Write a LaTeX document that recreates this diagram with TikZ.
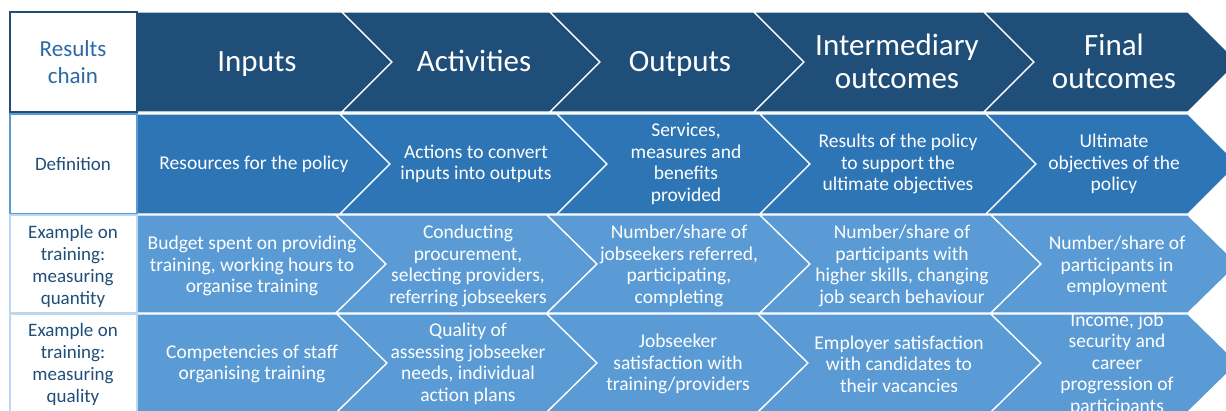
\documentclass[tikz,border=0pt]{standalone}
\usepackage{fontspec}
\setmainfont{Carlito}
\usepackage{xcolor}
\usepackage{tikz}

\definecolor{navy}{HTML}{1F4E79}
\definecolor{midblue}{HTML}{2E75B6}
\definecolor{lightblue}{HTML}{5B9BD5}
\definecolor{paleline}{HTML}{BDD7EE}
\definecolor{labeltext}{HTML}{1F4E79}

\tikzset{
    head/.style={text=white,align=center,font=\fontsize{31pt}{33pt}\selectfont},
    cell/.style={text=white,align=center,font=\fontsize{19.5pt}{21.5pt}\selectfont},
    rowlabel/.style={text=labeltext,align=center,font=\fontsize{19pt}{22pt}\selectfont},
    chev/.style={draw=white,line width=1.3pt,line join=miter},
}

% one row of five arrows: top, bottom, colour, then the four inner joints
\newcommand{\chainrow}[7]{%
    \filldraw[chev,fill=#3] (137,#1) -- (#4,#1) -- (#4+50,{(#1+#2)/2}) -- (#4,#2) -- (137,#2) -- cycle;
    \filldraw[chev,fill=#3] (#4,#1) -- (#5,#1) -- (#5+50,{(#1+#2)/2}) -- (#5,#2) -- (#4,#2) -- (#4+50,{(#1+#2)/2}) -- cycle;
    \filldraw[chev,fill=#3] (#5,#1) -- (#6,#1) -- (#6+50,{(#1+#2)/2}) -- (#6,#2) -- (#5,#2) -- (#5+50,{(#1+#2)/2}) -- cycle;
    \filldraw[chev,fill=#3] (#6,#1) -- (#7,#1) -- (#7+50,{(#1+#2)/2}) -- (#7,#2) -- (#6,#2) -- (#6+50,{(#1+#2)/2}) -- cycle;
    \filldraw[chev,fill=#3] (#7,#1) -- (1188,#1) -- (1238,{(#1+#2)/2}) -- (1188,#2) -- (#7,#2) -- (#7+50,{(#1+#2)/2}) -- cycle;
}

\begin{document}
\begin{tikzpicture}[x=1pt,y=-1pt]
    \useasboundingbox (0,0) rectangle (1226,410);
    \clip (0,0) rectangle (1226,410);

    % arrows
    \chainrow{12}{112}{navy}{342}{550}{754}{984}
    \chainrow{114}{214}{midblue}{340}{557}{760}{986}
    \chainrow{215}{313}{lightblue}{336}{547}{760}{991}
    \chainrow{314}{412}{lightblue}{337}{547}{758}{991}

    % label column
    \draw[navy,line width=1.3pt] (10,12) rectangle (137,112);
    \draw[lightblue,line width=1.3pt] (10,114) rectangle (137,214);
    \draw[paleline,line width=1.3pt] (10,215) rectangle (137,313);
    \draw[paleline,line width=1.3pt] (10,314) rectangle (137,412);

    \node[rowlabel,text=midblue!70!navy,font=\fontsize{23pt}{27pt}\selectfont] (chain) at (73,62) {Results\\chain};
    \node[rowlabel] (def) at (73,164) {Definition};
    \node[rowlabel] (quant) at (73,266) {Example on\\training:\\measuring\\quantity};
    \node[rowlabel] (qual) at (73,364) {Example on\\training:\\measuring\\quality};

    % results chain
    \node[head,anchor=base] (in) at (257,71) {Inputs};
    \node[head,anchor=base] (act) at (474,71) {Activities};
    \node[head,anchor=base] (out) at (680,71) {Outputs};
    \node[head] (mid) at (897,61) {Intermediary\\outcomes};
    \node[head] (fin) at (1114,61) {Final\\outcomes};

    % definition
    \node[cell] (def-in) at (254,164) {Resources for the policy};
    \node[cell] (def-act) at (476,164) {Actions to convert\\inputs into outputs};
    \node[cell] (def-out) at (686,164) {Services,\\measures and\\benefits\\provided};
    \node[cell] (def-mid) at (898,164) {Results of the policy\\to support the\\ultimate objectives};
    \node[cell] (def-fin) at (1114,164) {Ultimate\\objectives of the\\policy};

    % quantity
    \node[cell] (quant-in) at (252,266) {Budget spent on providing\\training, working hours to\\organise training};
    \node[cell] (quant-act) at (468,266) {Conducting\\procurement,\\selecting providers,\\referring jobseekers};
    \node[cell] (quant-out) at (679,266) {Number/share of\\jobseekers referred,\\participating,\\completing};
    \node[cell] (quant-mid) at (902,266) {Number/share of\\participants with\\higher skills, changing\\job search behaviour};
    \node[cell] (quant-fin) at (1117,266) {Number/share of\\participants in\\employment};

    % quality
    \node[cell] (qual-in) at (252,364) {Competencies of staff\\organising training};
    \node[cell] (qual-act) at (468,364) {Quality of\\assessing jobseeker\\needs, individual\\action plans};
    \node[cell] (qual-out) at (678,364) {Jobseeker\\satisfaction with\\training/providers};
    \node[cell] (qual-mid) at (899,364) {Employer satisfaction\\with candidates to\\their vacancies};
    \node[cell] (qual-fin) at (1117,364) {Income, job\\security and\\career\\progression of\\participants};
\end{tikzpicture}
\end{document}
